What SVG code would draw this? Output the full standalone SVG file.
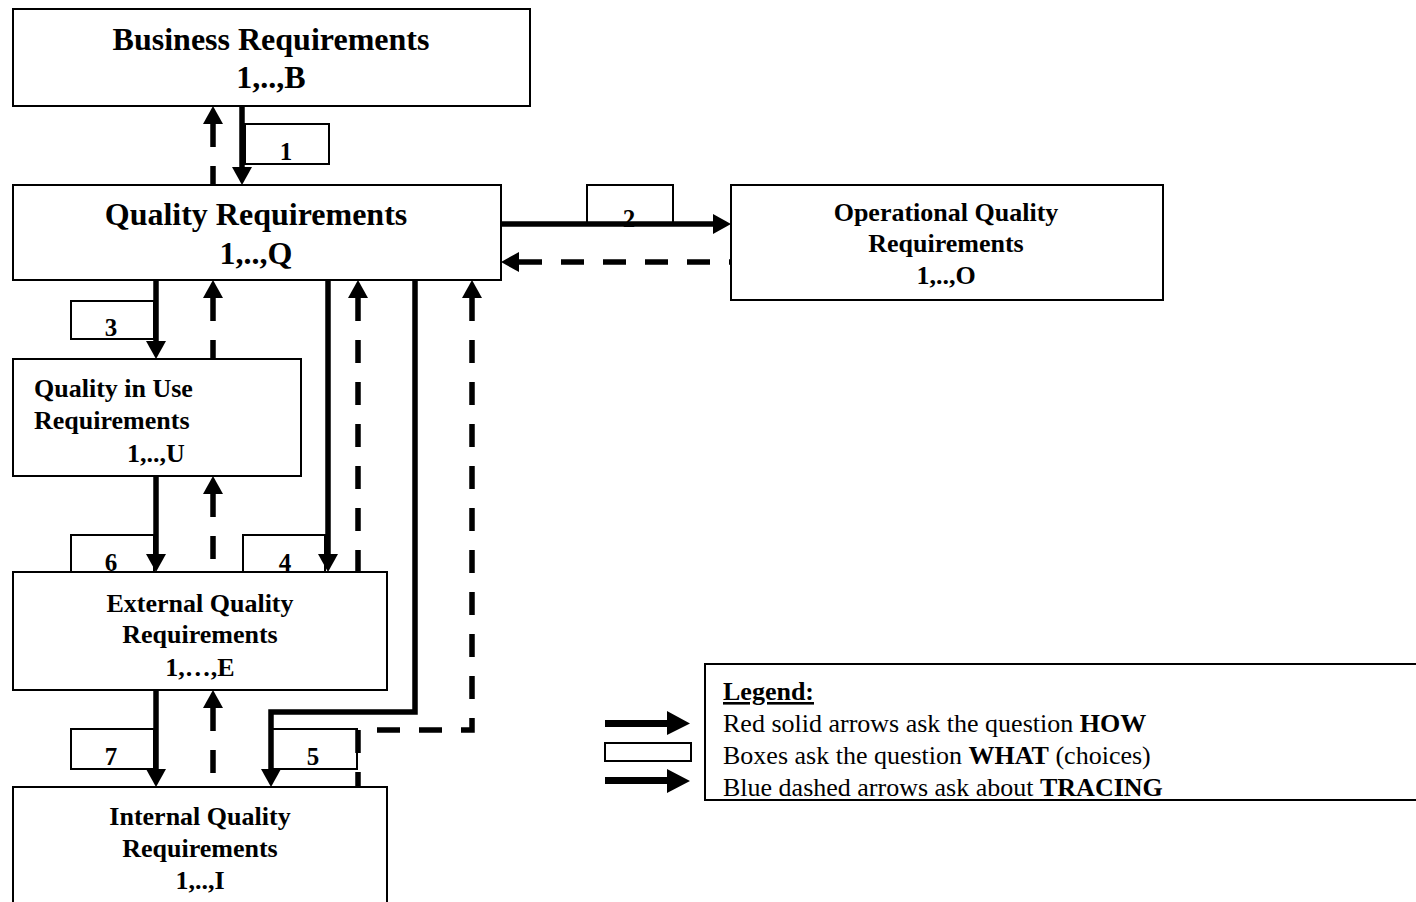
<svg xmlns="http://www.w3.org/2000/svg" width="1416" height="902" viewBox="0 0 1416 902">
<defs>
<style>
.box{fill:#fff;stroke:#000;stroke-width:2}
.lbl{fill:#fff;stroke:#000;stroke-width:2}
.t{font-family:"Liberation Serif","Times New Roman",serif;font-weight:bold;fill:#000;text-anchor:middle}
.big{font-size:32px}
.mid{font-size:26px}
.num{font-size:25px}
.solid{fill:none;stroke:#000;stroke-width:5.5;stroke-linejoin:miter}
.dash{fill:none;stroke:#000;stroke-width:5.5;stroke-dasharray:23 19}
.leg{font-family:"Liberation Serif","Times New Roman",serif;font-size:26px;fill:#000}
</style>
<marker id="ah" viewBox="0 0 18 20" markerWidth="18" markerHeight="20" refX="0" refY="10" orient="auto" markerUnits="userSpaceOnUse"><path d="M0,0 L18,10 L0,20 z" fill="#000"/></marker>
<marker id="ahs" viewBox="0 0 18 20" markerWidth="18" markerHeight="20" refX="0" refY="10" orient="auto-start-reverse" markerUnits="userSpaceOnUse"><path d="M0,0 L18,10 L0,20 z" fill="#000"/></marker>
</defs>
<rect width="1416" height="902" fill="#fff"/>

<g id="business">
<rect class="box" x="13" y="9" width="517" height="97"/>
<text class="t big" x="271" y="50">Business Requirements</text>
<text class="t big" x="271" y="88">1,..,B</text>
</g>

<g id="quality">
<rect class="box" x="13" y="185" width="488" height="95"/>
<text class="t big" x="256" y="225">Quality Requirements</text>
<text class="t big" x="256" y="264">1,..,Q</text>
</g>

<g id="operational">
<rect class="box" x="731" y="185" width="432" height="115"/>
<text class="t mid" x="946" y="221">Operational Quality</text>
<text class="t mid" x="946" y="252">Requirements</text>
<text class="t mid" x="946" y="284">1,..,O</text>
</g>

<g id="quality-in-use">
<rect class="box" x="13" y="359" width="288" height="117"/>
<text class="t mid" x="34" y="397" style="text-anchor:start">Quality in Use</text>
<text class="t mid" x="34" y="429" style="text-anchor:start">Requirements</text>
<text class="t mid" x="127" y="462" style="text-anchor:start">1,..,U</text>
</g>

<g id="external">
<rect class="box" x="13" y="572" width="374" height="118"/>
<text class="t mid" x="200" y="612">External Quality</text>
<text class="t mid" x="200" y="643">Requirements</text>
<text class="t mid" x="200" y="676">1,…,E</text>
</g>

<g id="internal">
<rect class="box" x="13" y="787" width="374" height="130"/>
<text class="t mid" x="200" y="825">Internal Quality</text>
<text class="t mid" x="200" y="857">Requirements</text>
<text class="t mid" x="200" y="889">1,..,I</text>
</g>

<g id="connectors">
<rect class="lbl" x="245" y="124" width="84" height="40"/>
<text class="t num" x="286" y="160">1</text>
<rect class="lbl" x="587" y="185" width="86" height="39"/>
<text class="t num" x="629" y="227">2</text>
<rect class="lbl" x="71" y="301" width="83" height="38"/>
<text class="t num" x="111" y="336">3</text>
<rect class="lbl" x="71" y="535" width="83" height="37"/>
<text class="t num" x="111" y="571">6</text>
<rect class="lbl" x="243" y="535" width="82" height="37"/>
<text class="t num" x="285" y="571">4</text>
<rect class="lbl" x="71" y="729" width="83" height="40"/>
<text class="t num" x="111" y="765">7</text>
<rect class="lbl" x="272" y="729" width="85" height="40"/>
<text class="t num" x="313" y="765">5</text>

<path class="solid" d="M242,106 V167" marker-end="url(#ah)"/>
<path class="dash" d="M213,124 V185" marker-start="url(#ahs)"/>
<path class="solid" d="M501,224 H713" marker-end="url(#ah)"/>
<path class="dash" d="M519,262 H731" marker-start="url(#ahs)"/>
<path class="solid" d="M156,280 V341" marker-end="url(#ah)"/>
<path class="dash" d="M213,298 V359" marker-start="url(#ahs)"/>
<path class="solid" d="M328,280 V554" marker-end="url(#ah)"/>
<path class="dash" d="M358,298 V572" marker-start="url(#ahs)"/>
<path class="solid" d="M156,476 V554" marker-end="url(#ah)"/>
<path class="dash" d="M213,494 V572" marker-start="url(#ahs)"/>
<path class="solid" d="M156,690 V769" marker-end="url(#ah)"/>
<path class="dash" d="M213,708 V787" marker-start="url(#ahs)"/>
<path class="solid" d="M415,280 V712 H271 V769" marker-end="url(#ah)"/>
<path class="dash" d="M472,298 V730 H358 V787" marker-start="url(#ahs)"/>
</g>

<g id="legend">
<rect class="box" x="705" y="664" width="730" height="136"/>
<text class="leg" x="723" y="700" font-weight="bold" text-decoration="underline">Legend:</text>
<text class="leg" x="723" y="732">Red solid arrows ask the question <tspan font-weight="bold">HOW</tspan></text>
<text class="leg" x="723" y="764">Boxes ask the question <tspan font-weight="bold">WHAT</tspan> (choices)</text>
<text class="leg" x="723" y="796">Blue dashed arrows ask about <tspan font-weight="bold">TRACING</tspan></text>
<path d="M605,720 H667 V711 L690,723.5 L667,735 V727 H605 z" fill="#000"/>
<rect class="box" x="605" y="743" width="86" height="18"/>
<path d="M605,777 H667 V769 L690,781 L667,793 V784 H605 z" fill="#000"/>
</g>
</svg>
